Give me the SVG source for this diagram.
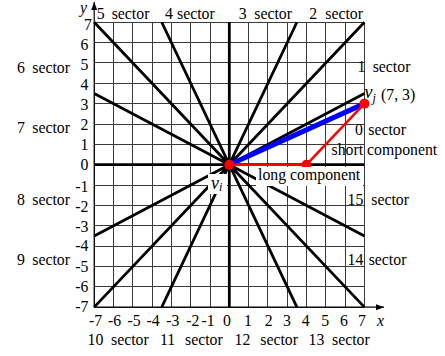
<svg xmlns="http://www.w3.org/2000/svg" width="445" height="356" viewBox="0 0 445 356" font-family="'Liberation Serif', 'DejaVu Serif', serif">
<style>
text{font-family:'Liberation Serif','DejaVu Serif',serif;font-size:15.8px;fill:#000}
.it{font-style:italic}
.grid{stroke:#3a3a3a;stroke-width:1;fill:none;shape-rendering:crispEdges}
.sec{stroke:#000;stroke-width:2.8;fill:none;stroke-linecap:butt}
.ax{stroke:#000;stroke-width:1.2;fill:none}
.yl{text-anchor:end}
.xl{text-anchor:middle}
</style>
<defs>
<marker id="arr" markerUnits="userSpaceOnUse" markerWidth="9" markerHeight="7" refX="8" refY="3" orient="auto">
<path d="M0,0 L8,3 L0,6 z" fill="#000"/>
</marker>
</defs>
<rect width="445" height="356" fill="#fff"/>
<g id="grid">
<path class="grid" d="M94.2,22.25V307.15M113.5,22.25V307.15M132.8,22.25V307.15M152.1,22.25V307.15M171.4,22.25V307.15M190.7,22.25V307.15M210,22.25V307.15M248.6,22.25V307.15M267.9,22.25V307.15M287.2,22.25V307.15M306.5,22.25V307.15M325.8,22.25V307.15M345.1,22.25V307.15M364.4,22.25V307.15M94.2,22.25H364.4M94.2,42.6H364.4M94.2,62.95H364.4M94.2,83.3H364.4M94.2,103.65H364.4M94.2,124H364.4M94.2,144.35H364.4M94.2,185.05H364.4M94.2,205.4H364.4M94.2,225.75H364.4M94.2,246.1H364.4M94.2,266.45H364.4M94.2,286.8H364.4M94.2,307.15H364.4"/>
</g>
<g id="axes">
<line class="ax" x1="94.2" y1="307.15" x2="94.2" y2="2" marker-end="url(#arr)"/>
<line class="ax" x1="94.2" y1="307.15" x2="384" y2="307.15" marker-end="url(#arr)"/>
</g>
<g id="connectors">
<path class="sec" d="M229.3,22.25V307.15M94.2,164.7H364.4"/>
<path class="sec" d="M229.3,164.7L364.4,22.25M229.3,164.7L296.9,22.25M229.3,164.7L161.75,22.25M229.3,164.7L94.2,22.25M229.3,164.7L94.2,93.5M229.3,164.7L94.2,235.9M229.3,164.7L94.2,307.15M229.3,164.7L161.75,307.15M229.3,164.7L296.9,307.15M229.3,164.7L364.4,307.15M229.3,164.7L364.4,235.9M229.3,164.7L364.4,93.5"/>
<line x1="229.3" y1="164.7" x2="364.4" y2="103.65" stroke="#0000ff" stroke-width="5"/>
<path d="M229.3,164.7H306.5L364.4,103.65" stroke="#ff0000" stroke-width="2.5" fill="none" stroke-linejoin="round"/>
</g>
<g id="node-vi">
<rect x="208" y="174" width="19" height="20" fill="#fff"/>
<circle cx="229.3" cy="164.7" r="5" fill="#ff0000"/>
<text x="211" y="188.5"><tspan class="it" font-size="18">v</tspan><tspan class="it" font-size="12" dy="2.5">i</tspan></text>
</g>
<g id="node-mid">
<circle cx="306.5" cy="164.7" r="5" fill="#ff0000"/>
</g>
<g id="node-vj">
<circle cx="364.4" cy="103.65" r="5" fill="#ff0000"/>
<text x="364.5" y="98"><tspan class="it" font-size="18">v</tspan><tspan class="it" font-size="12" dy="4">j</tspan><tspan x="381" dy="-2.5">(7, 3)</tspan></text>
</g>
<g id="labels">
<rect x="256" y="167" width="107" height="19" fill="#fff"/>
<text x="258" y="180">long component</text>
<text x="331.5" y="155">short component</text>
<text y="135"><tspan x="355">0</tspan><tspan x="368.3">sector</tspan></text>
<text y="72"><tspan x="357.5">1</tspan><tspan x="372.7">sector</tspan></text>
<text y="19"><tspan x="309.3">2</tspan><tspan x="325.3">sector</tspan></text>
<text y="19"><tspan x="238.7">3</tspan><tspan x="254.3">sector</tspan></text>
<text y="19"><tspan x="165">4</tspan><tspan x="177">sector</tspan></text>
<text y="19"><tspan x="96.7">5</tspan><tspan x="111.7">sector</tspan></text>
<text y="73"><tspan x="17">6</tspan><tspan x="32.3">sector</tspan></text>
<text y="133"><tspan x="17">7</tspan><tspan x="32.3">sector</tspan></text>
<text y="204.7"><tspan x="17">8</tspan><tspan x="32.3">sector</tspan></text>
<text y="264.7"><tspan x="17">9</tspan><tspan x="32.3">sector</tspan></text>
<text y="344.7"><tspan x="87.5">10</tspan><tspan x="111">sector</tspan></text>
<text y="344.7"><tspan x="160">11</tspan><tspan x="185">sector</tspan></text>
<text y="344.7"><tspan x="234.5">12</tspan><tspan x="260.3">sector</tspan></text>
<text y="344.7"><tspan x="308.5">13</tspan><tspan x="332">sector</tspan></text>
<text y="264.7"><tspan x="347.5">14</tspan><tspan x="368.7">sector</tspan></text>
<text y="205.3"><tspan x="347.5">15</tspan><tspan x="371.3">sector</tspan></text>
</g>
<g id="ticks-y">
<text class="yl" x="92" y="30">7</text>
<text class="yl" x="88.5" y="50">6</text>
<text class="yl" x="88.5" y="70">5</text>
<text class="yl" x="88.5" y="90">4</text>
<text class="yl" x="88.5" y="110">3</text>
<text class="yl" x="88.5" y="130">2</text>
<text class="yl" x="88.5" y="150">1</text>
<text class="yl" x="88.5" y="170">0</text>
<text class="yl" x="88.5" y="192">-1</text>
<text class="yl" x="88.5" y="211.5">-2</text>
<text class="yl" x="88.5" y="231.5">-3</text>
<text class="yl" x="88.5" y="251">-4</text>
<text class="yl" x="88.5" y="271.5">-5</text>
<text class="yl" x="88.5" y="291.5">-6</text>
<text class="yl" x="88.5" y="311.5">-7</text>
<text class="it" x="80" y="12.8" font-size="13.5">y</text>
</g>
<g id="ticks-x">
<text class="xl" x="95.5" y="326">-7</text>
<text class="xl" x="114.5" y="326">-6</text>
<text class="xl" x="134" y="326">-5</text>
<text class="xl" x="153" y="326">-4</text>
<text class="xl" x="172.8" y="326">-3</text>
<text class="xl" x="192.8" y="326">-2</text>
<text class="xl" x="208" y="326">-1</text>
<text class="xl" x="227" y="326">0</text>
<text class="xl" x="248" y="326">1</text>
<text class="xl" x="268.7" y="326">2</text>
<text class="xl" x="287" y="326">3</text>
<text class="xl" x="305.7" y="326">4</text>
<text class="xl" x="325.3" y="326">5</text>
<text class="xl" x="344" y="326">6</text>
<text class="xl" x="362" y="326">7</text>
<text class="it" x="377" y="326">x</text>
</g>
</svg>
